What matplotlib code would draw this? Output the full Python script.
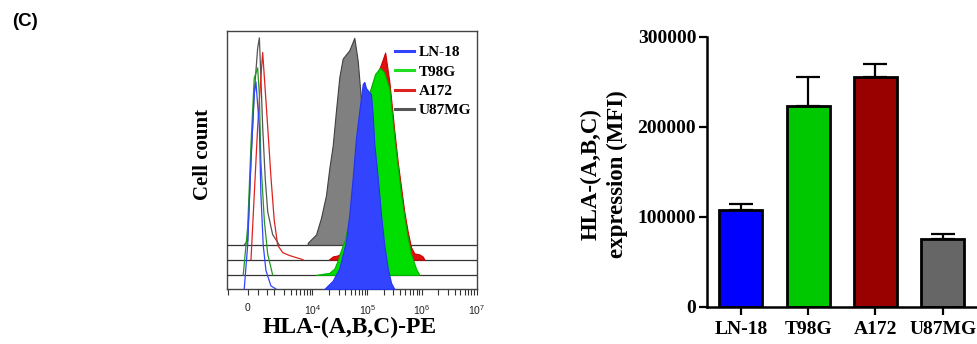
import numpy as np
import matplotlib
matplotlib.use("Agg")
import matplotlib.pyplot as plt

plt.rcParams['font.family'] = 'Liberation Serif'
plt.rcParams['mathtext.default'] = 'regular'

# ---- flow histograms (fluorescence value, relative cell count) ----
samples = ['LN-18', 'T98G', 'A172', 'U87MG']
offsets = [0.0, 6.8, 14.2, 21.3]

ln18_ctrl_x = [-340, 0, 330, 650, 820, 1070, 1140, 1260, 1410, 1740, 2150]
ln18_ctrl_y = [0, 21, 62, 94, 100, 78, 46, 21, 9, 1.5, 0]
ln18_x = [16440, 23400, 30900, 40950, 47070, 54330, 62400, 71750, 82800, 88500,
          95100, 117300, 126000, 134800, 155500, 178700, 205400, 237200, 272500, 313300]
ln18_y = [0, 4, 10, 23, 36, 54, 73, 86, 99, 100, 97, 94, 84, 70, 54, 36, 21, 10, 3, 0]

t98g_ctrl_x = [-440, 0, 330, 650, 990, 1070, 1140, 1320, 1520, 1870]
t98g_ctrl_y = [0, 23, 63, 95, 100, 87, 55, 26, 10, 0]
t98g_x = [11590, 20290, 25030, 28900, 33200, 39300, 48500, 59850, 73850, 91200, 112500,
          139000, 171400, 202600, 253500, 313300, 361500, 415300, 476800, 549500,
          631800, 780300, 897500]
t98g_y = [0, 1, 3, 7, 12, 17, 29, 46, 65, 80, 89, 97, 100, 98, 90, 66, 52, 39, 28, 18,
          10, 3, 0]

a172_ctrl_x = [330, 650, 990, 1140, 1230, 1320, 1520, 1740, 2000, 2310, 2850, 3770, 4990, 6700]
a172_ctrl_y = [0, 31, 64, 88, 100, 88, 64, 40, 19, 7, 3.4, 2, 1, 0]
a172_x = [20000, 23400, 28900, 33200, 39300, 48500, 59850, 73850, 91200, 112500, 139000,
          171400, 194500, 212500, 253500, 313300, 361500, 415300, 476800, 549500,
          631800, 726500, 897500, 1034000, 1106000]
a172_y = [0, 1.5, 2, 3, 7, 21, 38, 57, 71.5, 81, 88, 93, 97, 100, 86, 62, 47, 35,
          23, 13.5, 6, 3, 2.5, 1.5, 0]

u87_ctrl_x = [-330, 0, 330, 650, 990, 1070, 1140, 1230, 1370, 1520, 1870, 2470]
u87_ctrl_y = [0, 2, 41, 73, 95, 100, 81, 57, 32, 16, 5, 0]
u87_x = [8170, 11590, 14300, 17650, 20290, 23400, 26900, 30900, 35650, 40950, 47070,
         58100, 67000, 77000, 91200, 112500, 139000, 171400]
u87_y = [1, 5, 13, 24, 37, 48, 65, 81, 90, 92, 94, 100, 89, 70, 46, 22, 5, 0]

# ---- bar chart (MFI) ----
mfi = [107400, 223300, 255600, 75200]
mfi_err = [6700, 32300, 13700, 5900]

fill_cols = ['#3344ff', '#00dd00', '#dd1111', '#808080']
edge_cols = ['#2233ee', '#00b000', '#cc0000', '#404040']
ctrl_cols = ['#3344ff', '#229922', '#dd2222', '#555555']
bar_cols = ['#0000ff', '#00c800', '#990000', '#666666']

fig = plt.figure(figsize=(9.77, 3.44), dpi=100)
fig.text(12 / 977, 1 - 22 / 344, '(C)', family='Liberation Sans', fontweight='bold',
         fontsize=13.5, va='center', ha='left')

# left: overlaid histograms
ax1 = fig.add_axes([0.2320, 0.1599, 0.2559, 0.75])
ax1.set_xscale('symlog', linthresh=1000, linscale=0.166)
hists = [(ln18_ctrl_x, ln18_ctrl_y, ln18_x, ln18_y),
         (t98g_ctrl_x, t98g_ctrl_y, t98g_x, t98g_y),
         (a172_ctrl_x, a172_ctrl_y, a172_x, a172_y),
         (u87_ctrl_x, u87_ctrl_y, u87_x, u87_y)]
# back to front: U87MG, A172, T98G, LN-18
for i in [3, 2, 1, 0]:
    cx, cy, sx, sy = hists[i]
    base = offsets[i]
    z = 10 - i * 2
    if base > 0:
        ax1.axhline(base, color='#333333', lw=0.9, zorder=z)
    ax1.fill_between(sx, base, base + np.array(sy), facecolor=fill_cols[i],
                     edgecolor=edge_cols[i], lw=0.8, zorder=z)
    ax1.plot(cx, base + np.array(cy), color=ctrl_cols[i], lw=0.9, zorder=z + 1)

for i in range(4):
    ax1.plot([], [], color=ctrl_cols[i] if i != 1 else '#22dd22', lw=2.2, label=samples[i])

ax1.set_xlim(-1582, 1e7)
ax1.set_ylim(0, 124.6)
ax1.set_yticks([])
ax1.set_xticks([0, 1e4, 1e5, 1e6, 1e7])
ax1.set_xticklabels(['0', '$10^4$', '$10^5$', '$10^6$', '$10^7$'],
                    family='Liberation Sans', fontsize=7.5, color='#222222')
minor = [-1500, 1000, 1500] + [k * 10 ** e for e in (3, 4, 5, 6) for k in range(2, 10)]
ax1.set_xticks(minor, minor=True)
ax1.tick_params(axis='x', which='both', direction='out', length=4, width=0.8,
                color='#333333', pad=6)
for s in ax1.spines.values():
    s.set_color('#444444')
    s.set_linewidth(1.0)
ax1.set_xlabel('HLA-(A,B,C)-PE', fontsize=17, fontweight='bold')
ax1.xaxis.set_label_coords(0.493, -0.11)
ax1.set_ylabel('Cell count', fontsize=15, fontweight='bold')
ax1.yaxis.set_label_coords(-0.055, 0.523)
ax1.legend(loc='upper left', bbox_to_anchor=(0.675, 0.943), frameon=False,
           borderpad=0, borderaxespad=0, handlelength=1.2, handletextpad=0.35,
           labelspacing=0.37, prop={'family': 'Liberation Serif', 'weight': 'bold',
                                    'size': 11})

# right: MFI bars
ax2 = fig.add_axes([0.7233, 0.1084, 0.2767, 0.7849])
pos = np.arange(len(samples))
ax2.errorbar(pos, mfi, yerr=[np.zeros(4), mfi_err], fmt='none', ecolor='black',
             elinewidth=1.6, capsize=8.4, capthick=1.6, zorder=1)
ax2.bar(pos, mfi, width=0.64, color=bar_cols, edgecolor='black', linewidth=2.0, zorder=2)
ax2.set_xlim(-0.507, 3.508)
ax2.set_ylim(0, 300000)
ax2.set_yticks([0, 100000, 200000, 300000])
ax2.set_yticklabels(['0', '100000', '200000', '300000'], fontsize=14, fontweight='bold')
ax2.set_xticks(pos)
ax2.set_xticklabels(samples, fontsize=14, fontweight='bold')
ax2.spines['top'].set_visible(False)
ax2.spines['right'].set_visible(False)
ax2.spines['left'].set_linewidth(1.8)
ax2.spines['bottom'].set_linewidth(1.8)
ax2.tick_params(axis='both', direction='out', length=6, width=1.6, pad=1.5)
ax2.tick_params(axis='x', pad=4)
ax2.set_ylabel('HLA-(A,B,C)\nexpression (MFI)', fontsize=16.5, fontweight='bold',
               linespacing=1.3)
ax2.yaxis.set_label_coords(-0.291, 0.491)

fig.savefig('out.png', dpi=100)
